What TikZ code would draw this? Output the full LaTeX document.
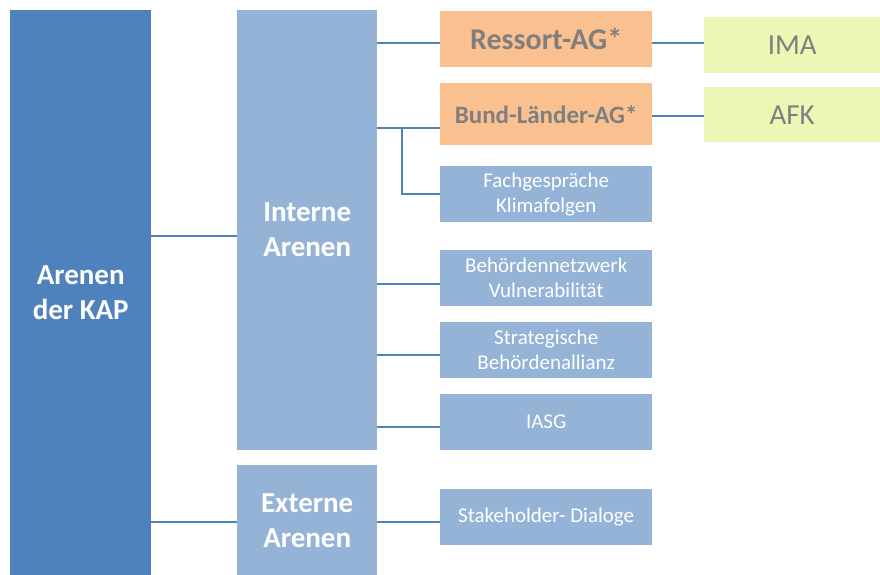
\documentclass[tikz,border=0pt]{standalone}
\usepackage{fontspec}
\setmainfont{Carlito}
\definecolor{dblue}{HTML}{4F81BD}
\definecolor{lblue}{HTML}{95B3D7}
\definecolor{orng}{HTML}{FAC090}
\definecolor{lgreen}{HTML}{EBF7B5}
\definecolor{gtext}{HTML}{7F7F7F}
\tikzset{
  box/.style={anchor=north west, inner sep=0pt, align=center},
  big/.style={box, fill=lblue, text=white, font=\bfseries\fontsize{29}{35}\selectfont},
  sub/.style={box, fill=lblue, text=white, font=\fontsize{21}{25}\selectfont},
  org/.style={box, fill=orng, text=gtext, font=\bfseries},
  grn/.style={box, fill=lgreen, text=gtext, font=\fontsize{29}{30}\selectfont},
  con/.style={draw=dblue, line width=1.8pt}
}
\begin{document}
\begin{tikzpicture}[x=1pt,y=-1pt]
\useasboundingbox (0,0) rectangle (880,575);
\node[big, fill=dblue, minimum width=141pt, minimum height=565pt] (kap) at (10,10) {Arenen\\der KAP};
\node[big, minimum width=140pt, minimum height=440pt] (int) at (237,10) {Interne\\Arenen};
\node[big, minimum width=140pt, minimum height=110pt] (ext) at (237,465) {Externe\\Arenen};
\node[org, minimum width=212pt, minimum height=56pt, font=\bfseries\fontsize{30}{30}\selectfont] (res) at (440,11) {Ressort-AG*};
\node[org, minimum width=212pt, minimum height=62pt, font=\bfseries\fontsize{25}{30}\selectfont] (bund) at (440,83) {Bund-Länder-AG*};
\node[sub, minimum width=212pt, minimum height=56pt] (fach) at (440,166) {Fachgespräche\\Klimafolgen};
\node[sub, minimum width=212pt, minimum height=56pt] (beh) at (440,250) {Behördennetzwerk\\Vulnerabilität};
\node[sub, minimum width=212pt, minimum height=56pt] (strat) at (440,322) {Strategische\\Behördenallianz};
\node[sub, minimum width=212pt, minimum height=56pt] (iasg) at (440,394) {IASG};
\node[sub, minimum width=212pt, minimum height=56pt] (stake) at (440,489) {Stakeholder- Dialoge};
\node[grn, minimum width=176pt, minimum height=56pt] (ima) at (704,17) {IMA};
\node[grn, minimum width=176pt, minimum height=55pt] (afk) at (704,87) {AFK};
\coordinate (br) at (402,128);
\draw[con] (kap.east |- 0,236) -- (int.west |- 0,236);
\draw[con] (kap.east |- 0,522) -- (ext.west |- 0,522);
\draw[con] (int.east |- 0,43) -- (res.west |- 0,43);
\draw[con] (int.east |- 0,128) -- (bund.west |- 0,128);
\draw[con] (br) |- (fach.west);
\draw[con] (int.east |- 0,284) -- (beh.west |- 0,284);
\draw[con] (int.east |- 0,355) -- (strat.west |- 0,355);
\draw[con] (int.east |- 0,427) -- (iasg.west |- 0,427);
\draw[con] (ext.east |- 0,522) -- (stake.west |- 0,522);
\draw[con] (res.east |- 0,43) -- (ima.west |- 0,43);
\draw[con] (bund.east |- 0,116) -- (afk.west |- 0,116);
\end{tikzpicture}
\end{document}
